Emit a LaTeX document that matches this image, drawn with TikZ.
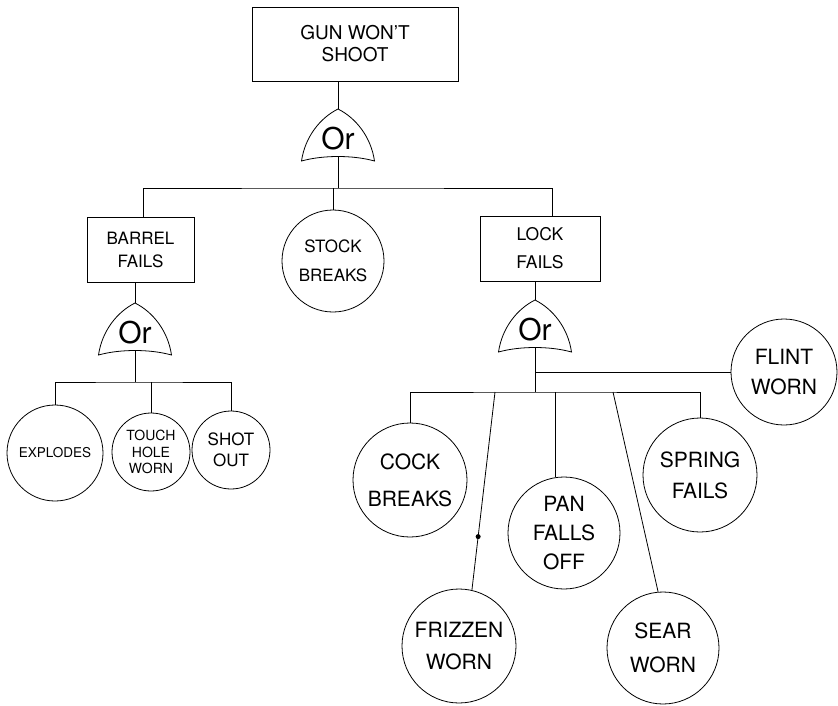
\documentclass[tikz,border=0pt]{standalone}
\usepackage{fontspec}
\setmainfont{TeX Gyre Heros}
\newcommand\txtsize[2]{\fontsize{#1}{#2}\selectfont}
\tikzset{
  gatebox/.style={draw, rectangle, inner sep=0pt, align=center},
  evt/.style={draw, circle, inner sep=0pt, align=center, minimum size=#1},
  jdot/.style={circle, fill, inner sep=0pt, minimum size=5pt},
  orgate/.pic={
    \draw (-36.5,0) .. controls (-33,-24) and (-18,-43) .. (0,-52)
      .. controls (18,-43) and (33,-24) .. (36.5,0)
      .. controls (15,-6) and (-15,-6) .. (-36.5,0) -- cycle;
    \node[font=\txtsize{30}{30}] (-lbl) at (0,-22) {Or};
    \coordinate (-top) at (0,-52);
    \coordinate (-bot) at (0,-4.5);
  }
}
\begin{document}
\begin{tikzpicture}[x=1pt, y=-1pt, line width=0.8pt]
\useasboundingbox (0,0) rectangle (838,705);
% top event
\node[gatebox, minimum width=206, minimum height=74, font=\txtsize{19}{22}] (gun) at (355,44) {GUN WON’T\\SHOOT};
\pic (g1) at (338,161) {orgate};
\draw (g1-top) -- (g1-top |- gun.south);
% second level
\node[gatebox, minimum width=107, minimum height=65, font=\txtsize{17}{23}] (barrel) at (140.5,249.5) {BARREL\\FAILS};
\node[evt=102, font=\txtsize{17}{29}] (stock) at (333,261) {STOCK\\BREAKS};
\node[gatebox, minimum width=120, minimum height=65, font=\txtsize{17.5}{28}] (lock) at (540,248.5) {LOCK\\FAILS};
\coordinate (j1) at (338,188);
\draw (g1-bot) -- (j1);
\draw ([xshift=2.5pt]barrel.north) |- (j1) -| ([xshift=12pt]lock.north);
\draw (stock.north) -- (stock.north |- j1);
% barrel branch
\pic (g2) at (135,355) {orgate};
\draw (g2-top) -- (g2-top |- barrel.south);
\coordinate (j2) at (135,382);
\draw (g2-bot) -- (j2);
\node[evt=96, font=\txtsize{13.5}{16}] (expl) at (55,453) {EXPLODES};
\node[evt=78, font=\txtsize{14}{16.5}] (touch) at (151,452) {TOUCH\\HOLE\\WORN};
\node[evt=78, font=\txtsize{17}{21}] (shot) at (231,450) {SHOT\\OUT};
\draw (expl.north) |- (j2) -| (shot.north);
\draw (touch.north) -- (touch.north |- j2);
% lock branch
\pic (g3) at (535,352) {orgate};
\draw (g3-top) -- (g3-top |- lock.south);
\coordinate (j3) at (535,392);
\coordinate (j4) at (535,372);
\draw (g3-bot) -- (j3);
\node[evt=106, font=\txtsize{21}{30}] (flint) at (784,372) {FLINT\\WORN};
\draw (j4) -- (j4 -| flint.west);
\node[evt=114, font=\txtsize{21}{37}] (cock) at (410,480) {COCK\\BREAKS};
\node[evt=114, font=\txtsize{21}{31}] (spring) at (700,475) {SPRING\\FAILS};
\node[evt=112, font=\txtsize{21}{29}] (pan) at (564,533) {PAN\\FALLS\\OFF};
\node[evt=114, font=\txtsize{21}{32}] (frizzen) at (459,646) {FRIZZEN\\WORN};
\node[evt=112, font=\txtsize{21}{34}] (sear) at (663,648) {SEAR\\WORN};
\draw (cock.north) |- (j3) -| (spring.north);
\draw (pan.99) -- (pan.99 |- j3);
\coordinate (f0) at (495,392);
\coordinate (s0) at (613,392);
\draw (f0) -- node[pos=0.73, jdot] (fdot) {} (frizzen.77);
\draw (s0) -- (sear.95);
\end{tikzpicture}
\end{document}
